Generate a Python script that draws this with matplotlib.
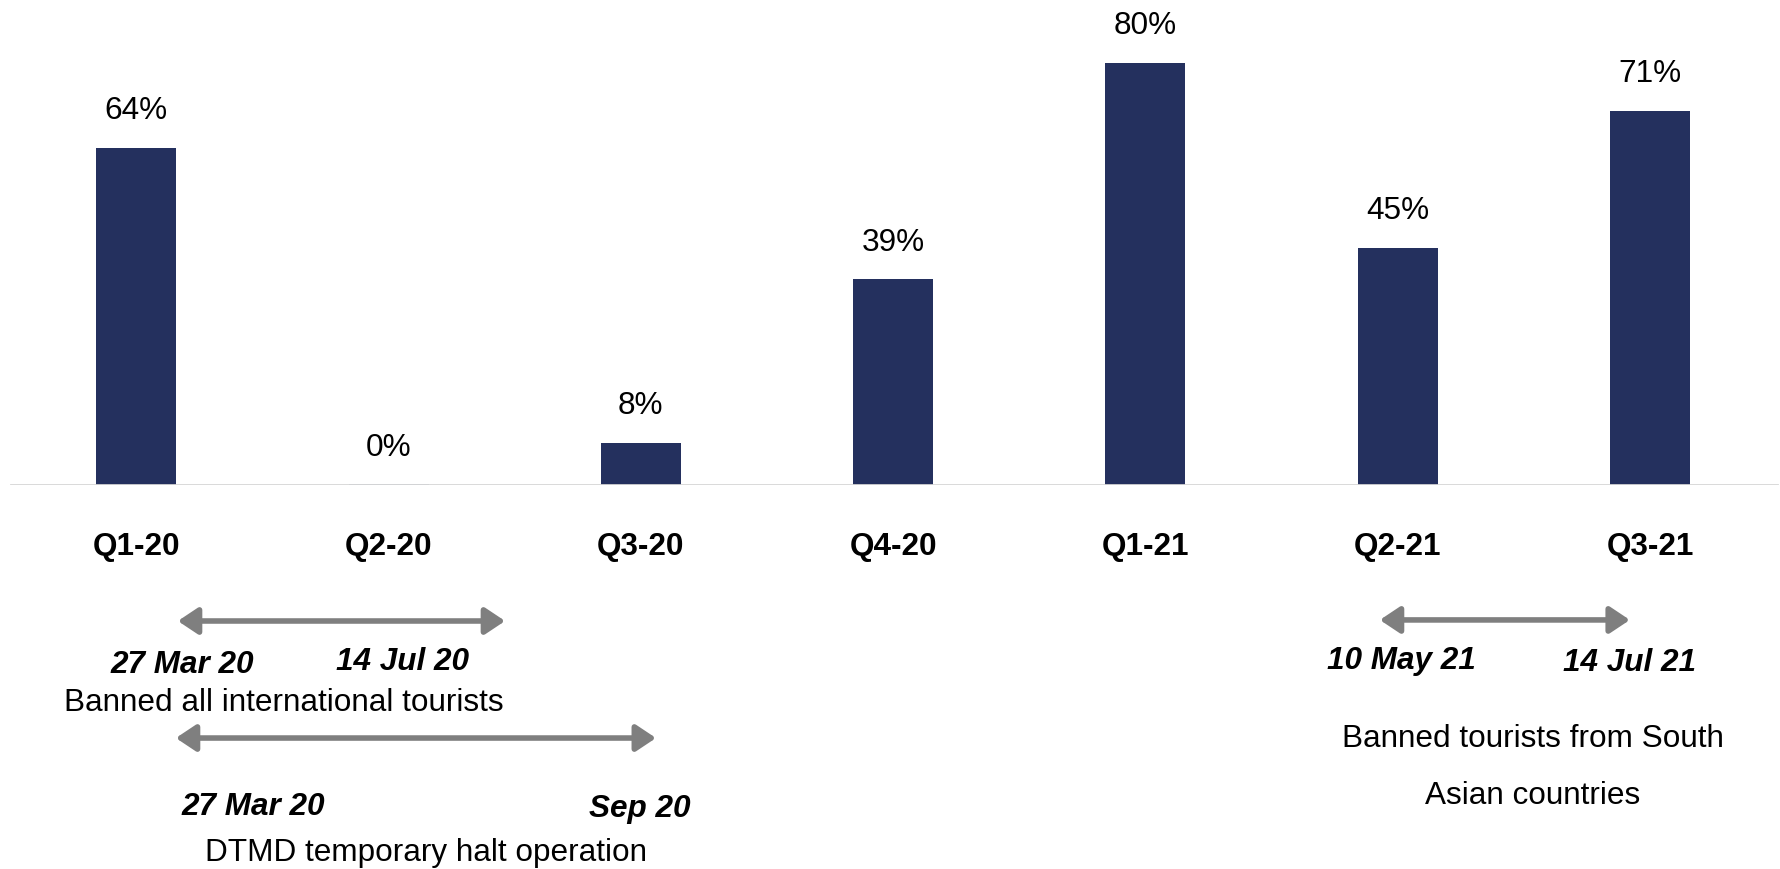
import matplotlib
matplotlib.use("Agg")
import matplotlib.pyplot as plt

plt.rcParams["font.family"] = ["Liberation Sans", "DejaVu Sans"]

quarters = ["Q1-20", "Q2-20", "Q3-20", "Q4-20", "Q1-21", "Q2-21", "Q3-21"]
share = [64, 0, 8, 39, 80, 45, 71]

# restriction periods drawn as double arrows under the axis: (start, end, y)
periods = [
    (0.165, 1.462, -25.8),
    (0.157, 2.060, -48.0),
    (4.929, 5.920, -25.6),
]
date_labels = [
    (0.181, -34.2, "27 Mar 20"),
    (1.057, -33.6, "14 Jul 20"),
    (0.462, -61.1, "27 Mar 20"),
    (1.996, -61.5, "Sep 20"),
    (5.016, -33.4, "10 May 21"),
    (5.920, -33.8, "14 Jul 21"),
]
notes = [
    (0.585, -41.4, "Banned all international tourists"),
    (1.148, -69.9, "DTMD temporary halt operation"),
    (5.536, -48.2, "Banned tourists from South"),
    (5.536, -59.0, "Asian countries"),
]

BAR = "#24305e"
ARROW = "#7f7f7f"
FS = 22.7

fig = plt.figure(figsize=(17.81, 8.69), dpi=100)
ax = fig.add_axes([0, 0.4419, 1, 0.5581])
ax.set_xlim(-0.540, 6.519)
ax.set_ylim(0, 92.0)

x = range(len(quarters))
bars = ax.bar(x, share, width=0.317, color=BAR, zorder=2)
bars[1].set_edgecolor("#aab3cc")
bars[1].set_linewidth(1.2)

for xi, v in zip(x, share):
    ax.annotate(f"{v}%", (xi, v), xytext=(0, 26.5), textcoords="offset points",
                ha="center", va="center", fontsize=FS)

ax.axhline(0, xmin=0.006, xmax=0.998, color="#d6d6d6", lw=2, zorder=3)

for s in ax.spines.values():
    s.set_visible(False)
ax.set_yticks([])
ax.set_xticks(list(x))
ax.set_xticklabels(quarters, fontsize=FS, fontweight="bold")
ax.tick_params(axis="x", length=0, pad=34)

for x0, x1, y in periods:
    ax.annotate("", xy=(x1, y), xytext=(x0, y), annotation_clip=False,
                arrowprops=dict(arrowstyle="<|-|>,head_length=0.6,head_width=0.4",
                                color=ARROW, lw=4, shrinkA=0, shrinkB=0,
                                mutation_scale=20))

for xi, yi, t in date_labels:
    ax.text(xi, yi, t, ha="center", va="center", fontsize=FS,
            fontweight="bold", fontstyle="italic", clip_on=False)

for xi, yi, t in notes:
    ax.text(xi, yi, t, ha="center", va="center", fontsize=FS, clip_on=False)

fig.savefig("out.png", dpi=100)
